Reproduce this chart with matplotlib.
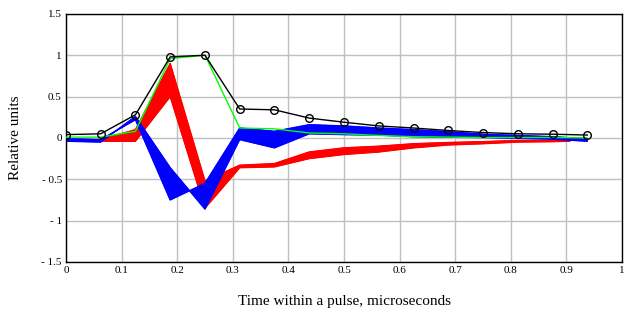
import matplotlib
matplotlib.use("Agg")
import matplotlib.pyplot as plt
import numpy as np

# time grid, microseconds
t = [0, 0.0625, 0.125, 0.1875, 0.25, 0.3125, 0.375, 0.4375,
     0.5, 0.5625, 0.625, 0.6875, 0.75, 0.8125, 0.875, 0.9375]
t_red = t[:15] + [0.906]

# black reference with circles
black_y = [0.04, 0.05, 0.28, 0.98, 1.0, 0.35, 0.34, 0.24,
           0.19, 0.145, 0.12, 0.09, 0.065, 0.05, 0.045, 0.035]
# green curve
green_y = [0.01, 0.01, 0.08, 0.96, 1.0, 0.12, 0.11, 0.06,
           0.05, 0.03, 0.015, 0.01, 0.005, 0.005, 0.005, 0.0]
# blue family, two outer curves
blue_a = [-0.01, -0.02, 0.22, -0.75, -0.55, 0.12, 0.08, 0.16,
          0.145, 0.12, 0.10, 0.075, 0.045, 0.03, 0.015, -0.01]
blue_b = [-0.04, -0.05, 0.26, -0.36, -0.86, -0.02, -0.12, 0.05,
          0.04, 0.035, 0.015, 0.01, 0.005, -0.005, -0.015, -0.04]
# red family, two outer curves
red_a = [-0.02, -0.02, 0.10, 0.90, -0.52, -0.33, -0.31, -0.17,
         -0.12, -0.10, -0.07, -0.055, -0.045, -0.03, -0.03, -0.025]
red_b = [-0.02, -0.04, -0.04, 0.50, -0.85, -0.36, -0.35, -0.25,
         -0.20, -0.17, -0.12, -0.085, -0.07, -0.05, -0.045, -0.04]

xticks = np.round(np.arange(0, 1.01, 0.1), 1)
xlabels = ["0", "0.1", "0.2", "0.3", "0.4", "0.5", "0.6", "0.7", "0.8", "0.9", "1"]
yticks = [-1.5, -1, -0.5, 0, 0.5, 1, 1.5]
ylabels = ["- 1.5", "- 1", "- 0.5", "0", "0.5", "1", "1.5"]

plt.rcParams['font.family'] = ['Liberation Serif', 'DejaVu Serif']

fig = plt.figure(figsize=(6.4, 3.16), dpi=100)
ax = fig.add_axes([0.103, 0.171, 0.869, 0.785])


def band(x, ya, yb, col):
    # fill the area swept between two curves of a family, segment by segment
    for i in range(len(x) - 1):
        ax.fill([x[i], x[i + 1], x[i + 1], x[i]],
                [ya[i], ya[i + 1], yb[i + 1], yb[i]],
                color=col, lw=0.6, zorder=2)
    ax.plot(x, ya, color=col, lw=1, zorder=2)
    ax.plot(x, yb, color=col, lw=1, zorder=2)


band(t_red, red_a, red_b, "#ff0000")
band(t, blue_a, blue_b, "#0000ff")
ax.plot(t, green_y, color="#00ff00", lw=1, zorder=3)
ax.plot(t, black_y, color="black", lw=1, marker="o", ms=5.5,
        mfc="none", mec="black", mew=1, zorder=4)

ax.set_xlim(0, 1)
ax.set_ylim(-1.5, 1.5)
ax.set_xticks(xticks)
ax.set_xticklabels(xlabels)
ax.set_yticks(yticks)
ax.set_yticklabels(ylabels)
ax.tick_params(length=0, labelsize=8, pad=3)
ax.grid(True, color="#c0c0c0", lw=1)
ax.set_axisbelow(True)
for s in ax.spines.values():
    s.set_color("black")
    s.set_linewidth(1)

ax.set_xlabel("Time within a pulse, microseconds", fontsize=11, labelpad=14)
ax.set_ylabel("Relative units", fontsize=11, labelpad=14)

fig.savefig("out.png", dpi=100)
